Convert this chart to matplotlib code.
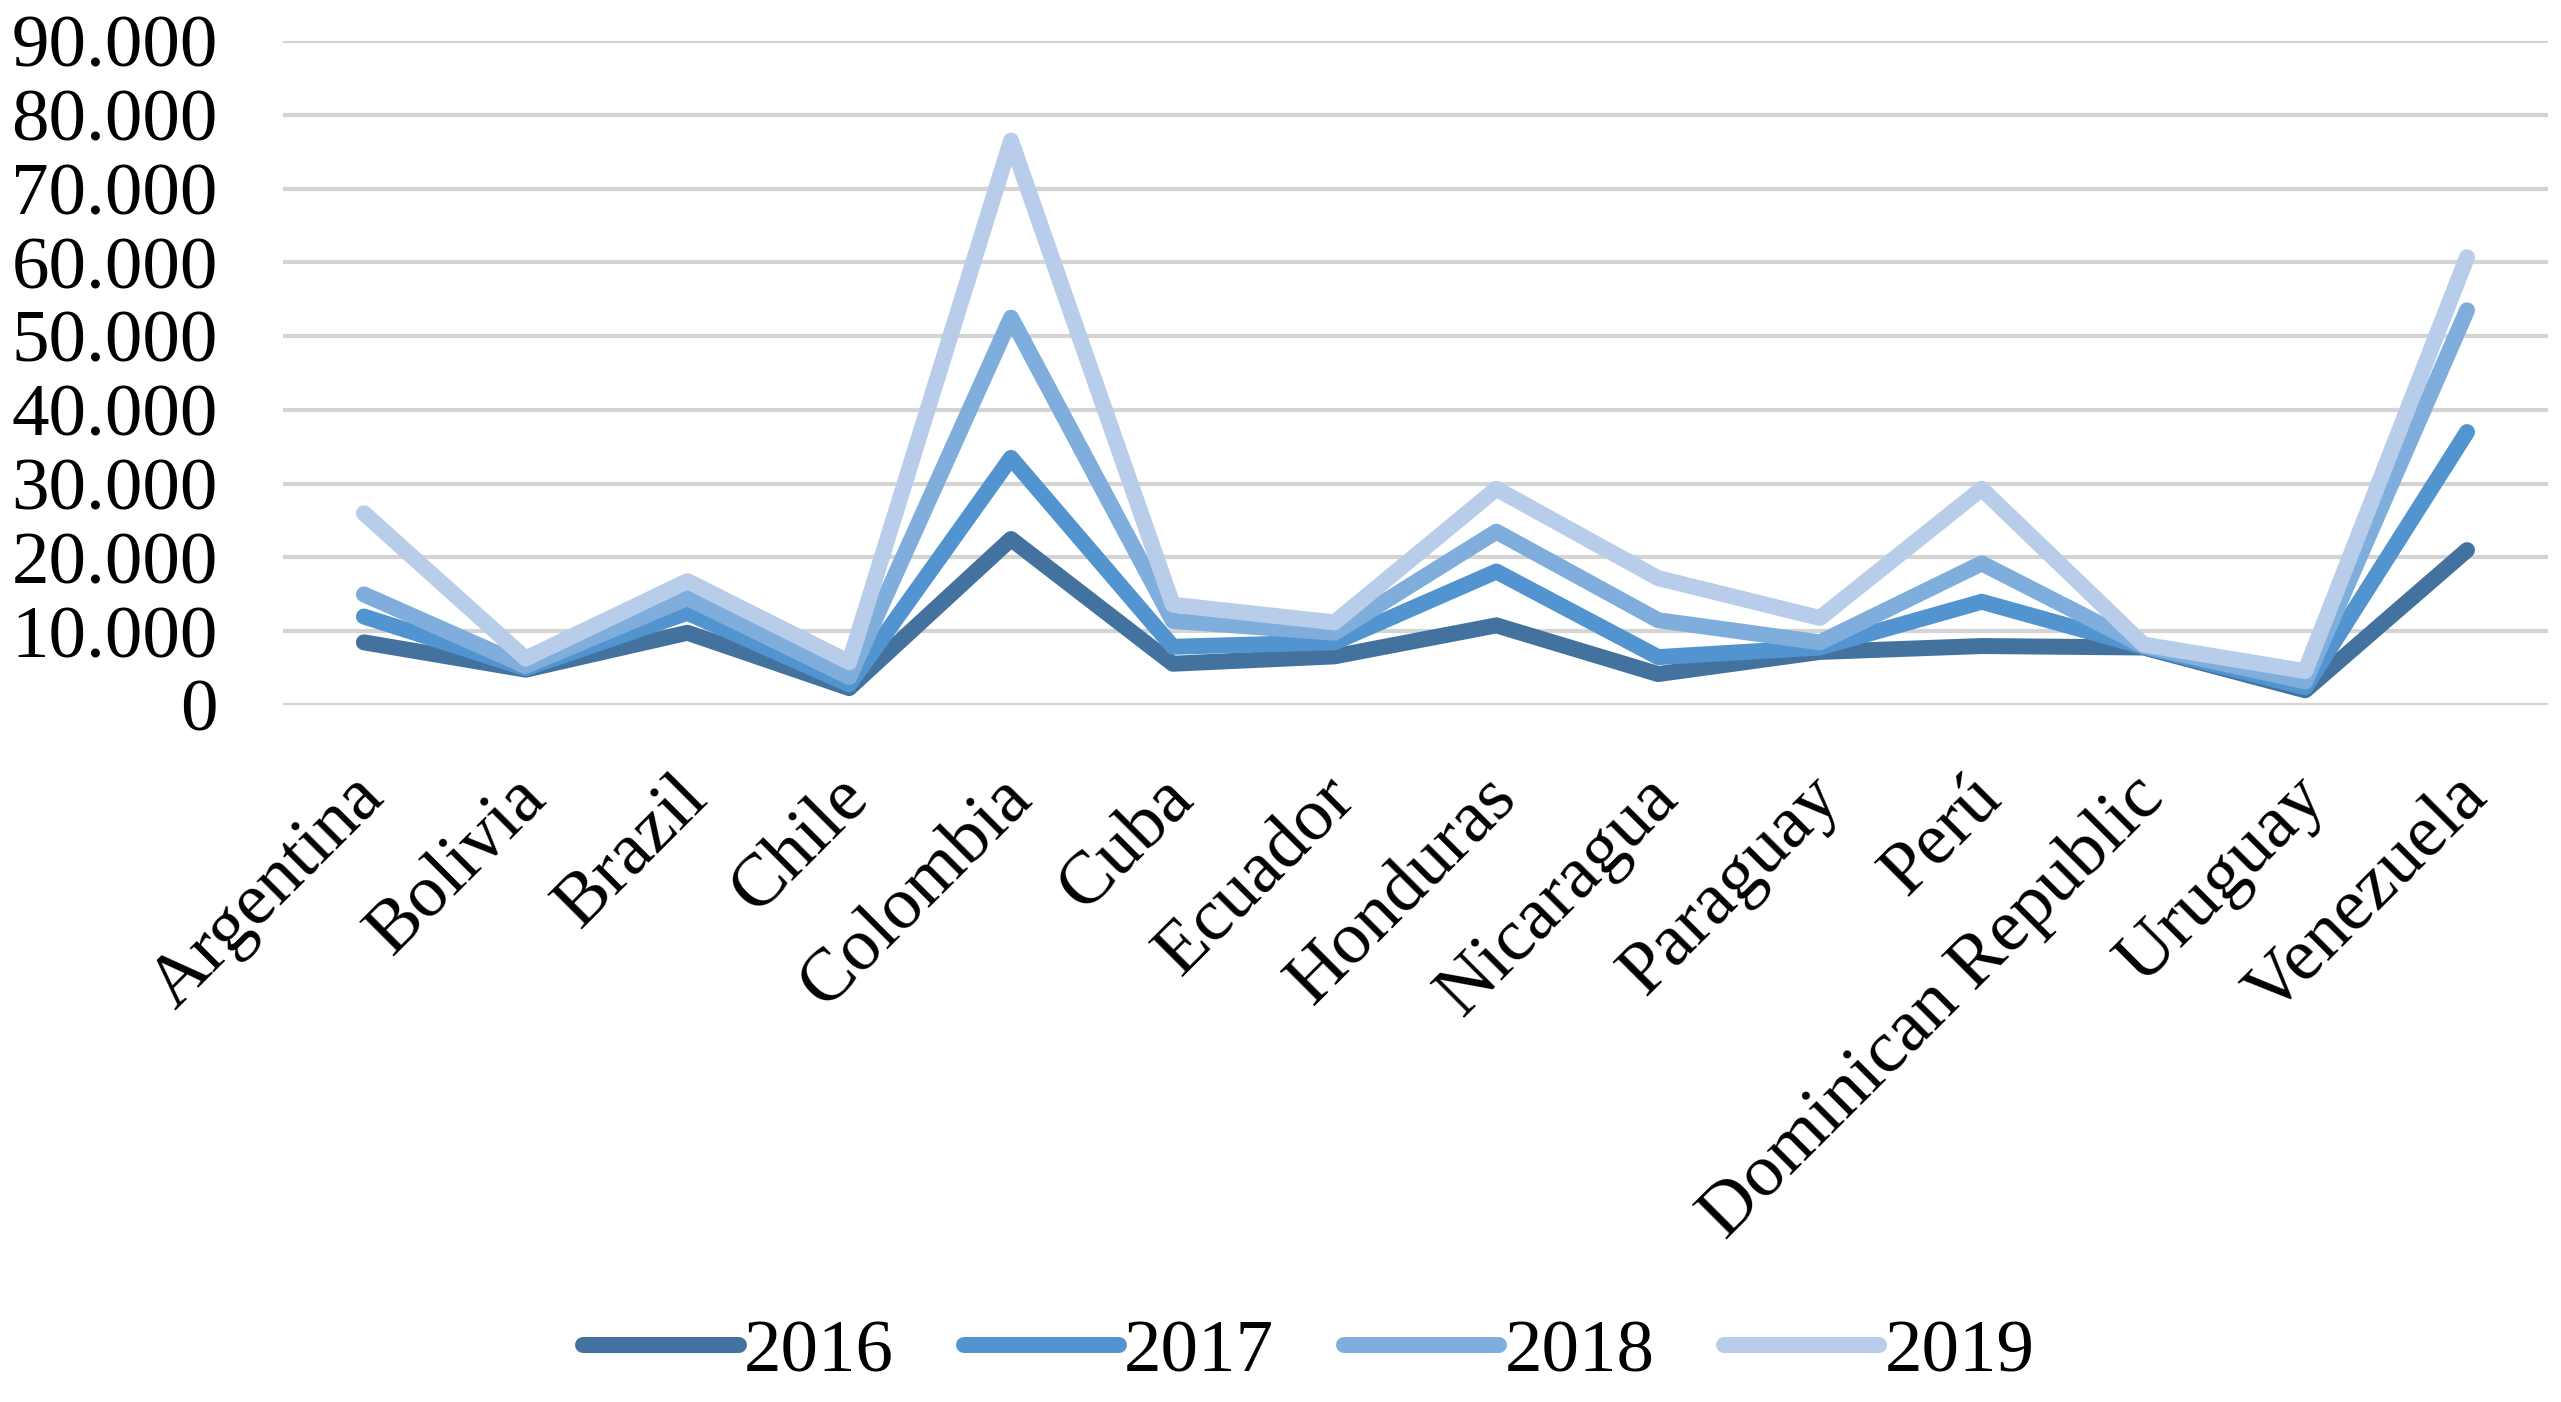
import matplotlib
matplotlib.use("Agg")
import matplotlib.pyplot as plt
from matplotlib.ticker import FuncFormatter, MultipleLocator
from matplotlib.transforms import ScaledTranslation

# Data
countries = ["Argentina", "Bolivia", "Brazil", "Chile", "Colombia", "Cuba",
             "Ecuador", "Honduras", "Nicaragua", "Paraguay", "Perú",
             "Dominican Republic", "Uruguay", "Venezuela"]
years = ["2016", "2017", "2018", "2019"]
v2016 = [8500, 4800, 9800, 2300, 22500, 5600, 6600, 10800, 4200, 7200, 8000, 7800, 2000, 21000]
v2017 = [12000, 5000, 12500, 2800, 33500, 7900, 8500, 18100, 6500, 7800, 14000, 7900, 2400, 37000]
v2018 = [15000, 5300, 14500, 3800, 52500, 11400, 9800, 23500, 11500, 8500, 19200, 8000, 3200, 53500]
v2019 = [26000, 6300, 16800, 5800, 76500, 13600, 11200, 29300, 17200, 11800, 29300, 8200, 4600, 60700]
series = [v2016, v2017, v2018, v2019]
colors = ["#43729F", "#5294CF", "#7FAEDC", "#B7CDE9"]

plt.rcParams["font.family"] = ["Liberation Serif", "DejaVu Serif"]

fig = plt.figure(figsize=(25.61, 14.02), dpi=100)
ax = fig.add_axes([0.1105, 0.4971, 0.8844, 0.4737])

x = list(range(len(countries)))
for vals, year, col in zip(series, years, colors):
    ax.plot(x, vals, color=col, linewidth=11.5, label=year,
            solid_capstyle="round", solid_joinstyle="round", zorder=3)

ax.set_xlim(-0.5, len(countries) - 0.5)
ax.set_ylim(0, 90000)
ax.yaxis.set_major_locator(MultipleLocator(10000))
ax.yaxis.set_major_formatter(FuncFormatter(lambda v, p: f"{v:,.0f}".replace(",", ".")))
ax.grid(axis="y", color="#D4D4D4", linewidth=3, zorder=0)
ax.set_axisbelow(True)
for s in ax.spines.values():
    s.set_visible(False)

ax.set_xticks(x)
ax.set_xticklabels(countries)
ax.tick_params(axis="y", length=0, pad=47, labelsize=54)
ax.tick_params(axis="x", length=0, pad=42, labelsize=54)
shift = ScaledTranslation(-14 / 100, 0, fig.dpi_scale_trans)
for lbl in ax.get_xticklabels():
    lbl.set_rotation(45)
    lbl.set_ha("right")
    lbl.set_va("top")
    lbl.set_rotation_mode("anchor")
    lbl.set_transform(lbl.get_transform() + shift)

fig.legend(loc="center", bbox_to_anchor=(1309 / 2561, 1 - 1353 / 1402),
           ncol=4, frameon=False, fontsize=54, handlelength=2.07,
           handletextpad=0.07, columnspacing=0.93)

fig.savefig("out.png", dpi=100)
